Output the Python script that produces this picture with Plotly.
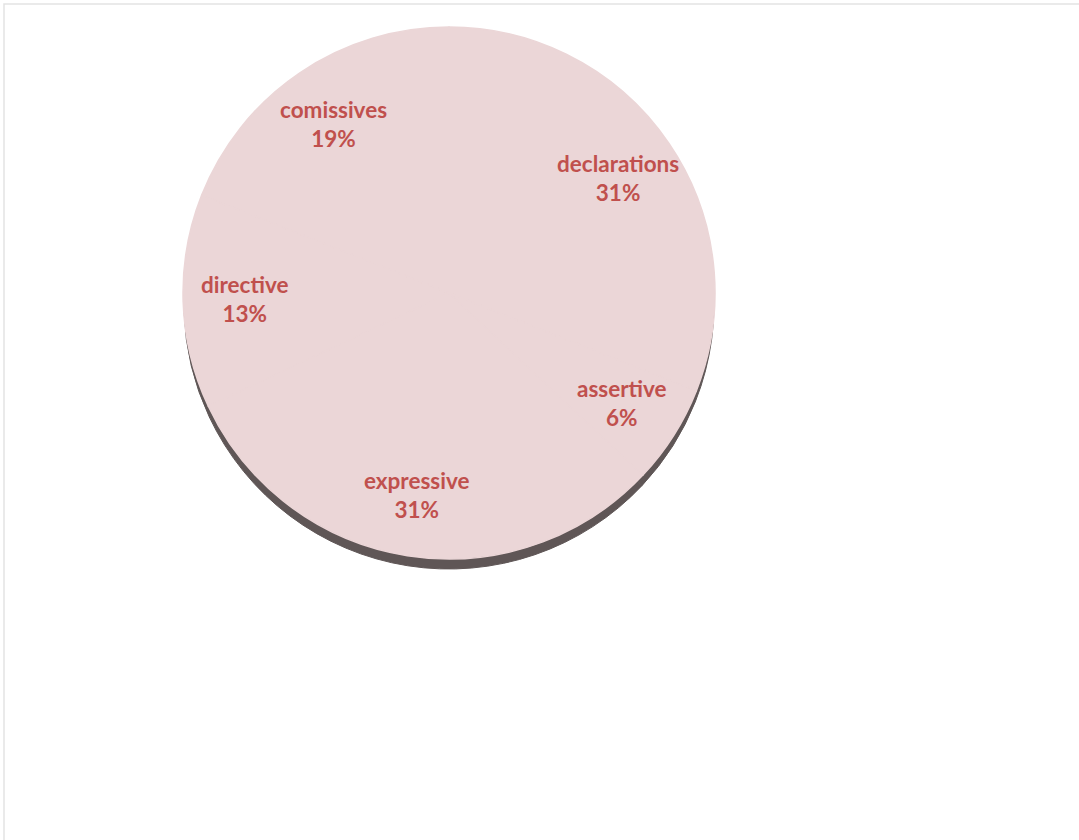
import math
import plotly.graph_objects as go

categories = ["declarations", "assertive", "expressive", "directive", "comissives"]
percentages = [31, 6, 31, 13, 19]

W, H = 1079, 840
cx, cy, r = 449, 293, 266
shadow_dy = 11
label_frac = 0.77

def dom(cx_px, cy_px, rad):
    return dict(x=[(cx_px - rad) / W, (cx_px + rad) / W],
                y=[1 - (cy_px + rad) / H, 1 - (cy_px - rad) / H])

fill = "#ebd6d7"
fig = go.Figure()
fig.add_trace(go.Pie(
    labels=categories, values=percentages, sort=False, direction="clockwise", rotation=0,
    marker=dict(colors=["#5f5656"] * len(categories), line=dict(color="#5f5656", width=1)),
    textinfo="none", hoverinfo="skip", showlegend=False,
    domain=dom(cx, cy + shadow_dy, r - 1),
))
fig.add_trace(go.Pie(
    labels=categories, values=percentages, sort=False, direction="clockwise", rotation=0,
    marker=dict(colors=[fill] * len(categories), line=dict(color=fill, width=1.5)),
    textinfo="none", showlegend=False,
    domain=dom(cx, cy, r),
))

# label annotations at the mid-angle of each slice
total = sum(percentages)
annotations = []
cum = 0
for cat, v in zip(categories, percentages):
    mid = (cum + v / 2) / total * 2 * math.pi
    cum += v
    x = cx + label_frac * r * math.sin(mid)
    y = cy - label_frac * r * math.cos(mid)
    annotations.append(dict(
        x=x / W, y=1 - y / H, xref="paper", yref="paper", showarrow=False,
        text=f"{cat}<br>{round(v / total * 100)}%", align="center",
        xanchor="center", yanchor="middle",
        font=dict(family="Lato", size=22.5, color="#c0504d", weight="bold"),
    ))

fig.update_layout(
    width=W, height=H, margin=dict(l=0, r=0, t=0, b=0),
    paper_bgcolor="white", plot_bgcolor="white",
    annotations=annotations,
    shapes=[dict(type="rect", xref="paper", yref="paper", x0=4 / W, x1=1.01, y0=-0.01, y1=1 - 4 / H,
                 line=dict(color="#e3e3e3", width=1.5), fillcolor="rgba(0,0,0,0)", layer="below")],
)
fig.write_html("out.html", config={"displayModeBar": False},
               post_script="document.body.style.margin='0';")
